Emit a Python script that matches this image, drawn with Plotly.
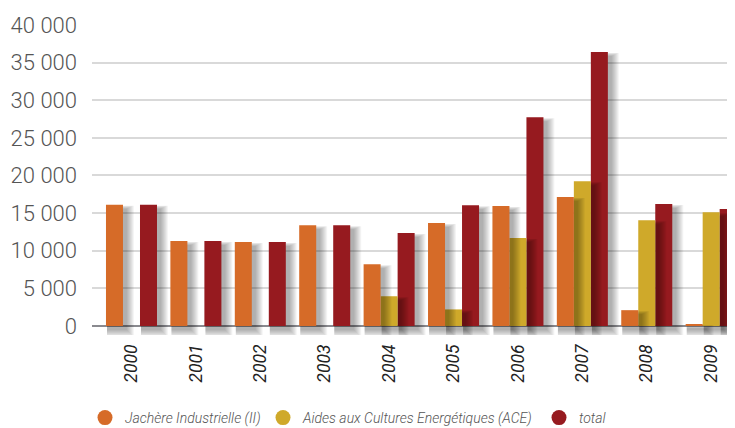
import plotly.graph_objects as go

years = ["2000", "2001", "2002", "2003", "2004", "2005", "2006", "2007", "2008", "2009"]
jachere = [16100, 11300, 11150, 13400, 8200, 13700, 15950, 17150, 2100, 250]
ace = [0, 0, 0, 0, 3950, 2200, 11700, 19250, 14050, 15100]
total = [16100, 11300, 11150, 13400, 12350, 16050, 27750, 36400, 16200, 15550]

names = ["Jachère Industrielle (II)", "Aides aux Cultures Energétiques (ACE)", "total"]
colors = ["#D66B28", "#CFA92A", "#961A1F"]
series = [jachere, ace, total]

# geometry (style only)
BAR_W = 0.264          # bar width in category units
PX_X = 1 / 64.4        # one pixel in category units
PX_Y = 133.0           # one pixel in value units
SH_DX, SH_DY = 4, 4    # shadow offset in px
SPREADS = list(range(8))

fig = go.Figure()
# draw from last series to first so each shadow falls over the next bar
for i in reversed(range(3)):
    vals = series[i]
    off = -1.5 * BAR_W + i * BAR_W
    for s in SPREADS:
        base = -(SH_DY + s) * PX_Y
        top_shift = min(-SH_DY + 0.5 * s, -1) * PX_Y
        heights = [(v + top_shift - base) if v > 0 else 0 for v in vals]
        fig.add_trace(go.Bar(
            x=years, y=heights, base=base,
            offset=off + PX_X, width=BAR_W + (SH_DX + s - 1) * PX_X,
            marker=dict(color="rgba(0,0,0,0.045)", line=dict(width=0)),
            showlegend=False, hoverinfo="skip"))
    fig.add_trace(go.Bar(x=years, y=vals, name=names[i], offset=off, width=BAR_W,
                         marker=dict(color=colors[i], line=dict(width=0)),
                         showlegend=False, legendgroup=names[i]))

legend_ids = ["legend", "legend2", "legend3"]
for name, col, lid in zip(names, colors, legend_ids):
    fig.add_trace(go.Scatter(x=[None], y=[None], mode="markers", name=name, legendgroup=name,
                             legend=lid, marker=dict(color=col, size=15, symbol="circle")))

W, H = 727, 420
leg_font = dict(family="Roboto", size=14, color="#555555", style="italic", weight=300)
def leg(xpx):
    return dict(orientation="h", xref="container", yref="container", x=xpx / W, y=(H - 410) / H,
                xanchor="left", yanchor="middle", itemclick=False, font=leg_font,
                bgcolor="rgba(0,0,0,0)")

fig.update_layout(
    width=W, height=H,
    margin=dict(l=84, r=0, t=17, b=93, autoexpand=False),
    paper_bgcolor="white", plot_bgcolor="white",
    barmode="overlay",
    separators=", ",
    font=dict(family="Roboto", color="#555555"),
    xaxis=dict(range=[-0.613, 9.37], showgrid=False, tickangle=-90, ticks="",
               tickfont=dict(family="Roboto", size=17.5, color="#222222", style="italic"),
               ticklabelstandoff=5, showline=False, zeroline=False),
    yaxis=dict(range=[-1200, 40000], dtick=5000, tick0=0, tickformat=",d", showgrid=True,
               gridcolor="rgba(0,0,0,0.15)", gridwidth=1.5, zeroline=True, zerolinecolor="#8a8a8f",
               zerolinewidth=2, ticks="", ticklabelstandoff=14, layer="above traces",
               tickfont=dict(family="Roboto", size=22, color="#555555", weight=300)),
    legend=leg(77), legend2=leg(255), legend3=leg(531),
)

fig.write_html("out.html")
